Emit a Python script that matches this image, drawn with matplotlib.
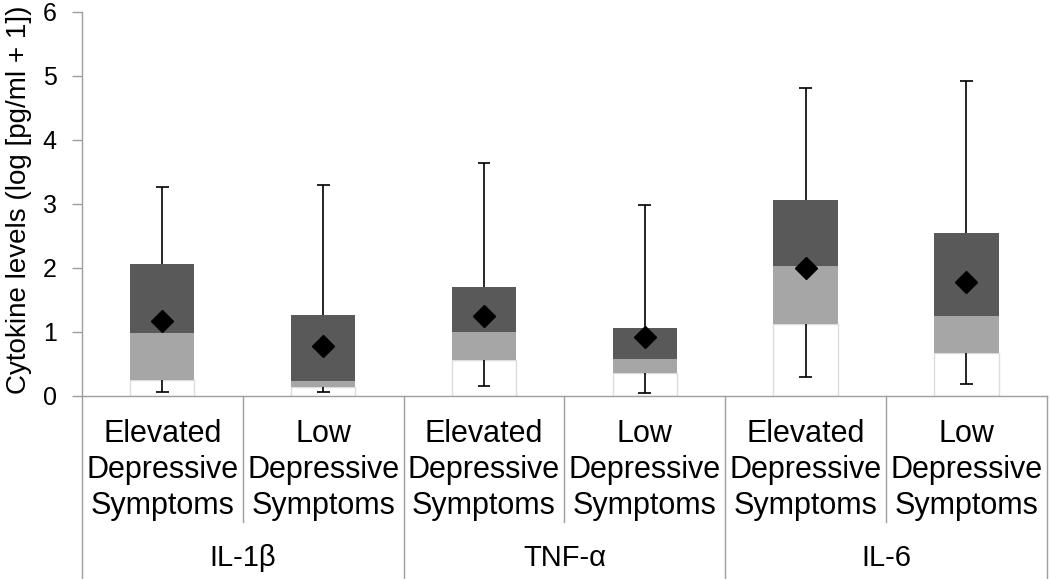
import matplotlib
matplotlib.use("Agg")
import matplotlib.pyplot as plt
import matplotlib.transforms as mtransforms

plt.rcParams['font.family'] = ['Liberation Sans', 'DejaVu Sans']

# Box plot values (log [pg/ml + 1])
cytokines = ['IL-1β', 'TNF-α', 'IL-6']
subgroups = ['Elevated\nDepressive\nSymptoms', 'Low\nDepressive\nSymptoms']
mins = [0.05, 0.05, 0.15, 0.04, 0.29, 0.19]
q1 = [0.245, 0.135, 0.56, 0.36, 1.12, 0.66]
medians = [0.98, 0.23, 0.99, 0.57, 2.03, 1.245]
q3 = [2.05, 1.26, 1.69, 1.06, 3.06, 2.54]
maxs = [3.26, 3.29, 3.63, 2.975, 4.81, 4.91]
means = [1.17, 0.77, 1.245, 0.91, 2.0, 1.78]

x = list(range(len(q1)))
bar_w = 0.4
cap_w = 0.08
line_grey = '#9e9e9e'

fig = plt.figure(figsize=(10.5, 5.79), dpi=100)
ax = fig.add_axes([0.078, 0.3166, 0.919, 0.6634])

# stacked bars: white bottom, light grey Q1-median, dark grey median-Q3
ax.bar(x, q1, width=bar_w, color='white', edgecolor='#dcdcdc', linewidth=1, zorder=2)
ax.bar(x, [m - a for m, a in zip(medians, q1)], bottom=q1, width=bar_w,
       color='#a6a6a6', linewidth=0, zorder=2)
ax.bar(x, [b - m for b, m in zip(q3, medians)], bottom=medians, width=bar_w,
       color='#595959', linewidth=0, zorder=2)

# whiskers
ax.vlines(x, q3, maxs, color='black', linewidth=1.2, zorder=3)
ax.vlines(x, mins, q1, color='black', linewidth=1.2, zorder=3)
ax.hlines(maxs, [i - cap_w / 2 for i in x], [i + cap_w / 2 for i in x],
          color='black', linewidth=1.2, zorder=3)
ax.hlines(mins, [i - cap_w / 2 for i in x], [i + cap_w / 2 for i in x],
          color='black', linewidth=1.2, zorder=3)

# means
ax.plot(x, means, linestyle='none', marker='D', markersize=11.5, color='black', zorder=4)

ax.set_xlim(-0.5, len(x) - 0.5)
ax.set_ylim(0, 6)
ax.set_yticks(range(7))
ax.tick_params(axis='y', direction='out', length=7.2, width=1, color=line_grey,
               labelsize=18, pad=11)
ax.set_xticks([])
for side in ['top', 'right']:
    ax.spines[side].set_visible(False)
for side in ['left', 'bottom']:
    ax.spines[side].set_color(line_grey)
    ax.spines[side].set_linewidth(1)

ax.set_ylabel('Cytokine levels (log [pg/ml + 1])', fontsize=20)
ax.yaxis.set_label_coords(-0.052, 0.51)

# multi-level category axis
trans = mtransforms.blended_transform_factory(ax.transData, ax.transAxes)
ax.plot([-0.5, -0.5], [0, -0.48], transform=trans, color=line_grey, lw=1, clip_on=False)
for g in range(len(cytokines)):
    left = 2 * g - 0.5
    ax.plot([left + 1, left + 1], [0, -0.328], transform=trans, color=line_grey,
            lw=1, clip_on=False)
    ax.plot([left + 2, left + 2], [0, -0.48], transform=trans, color=line_grey,
            lw=1, clip_on=False)
    ax.text(left + 1, -0.4227, cytokines[g], transform=trans, ha='center',
            va='center', fontsize=21)
    for k in range(2):
        ax.text(2 * g + k, -0.1935, subgroups[k], transform=trans, ha='center',
                va='center', fontsize=22, linespacing=1.27)

fig.savefig('out.png', dpi=100)
